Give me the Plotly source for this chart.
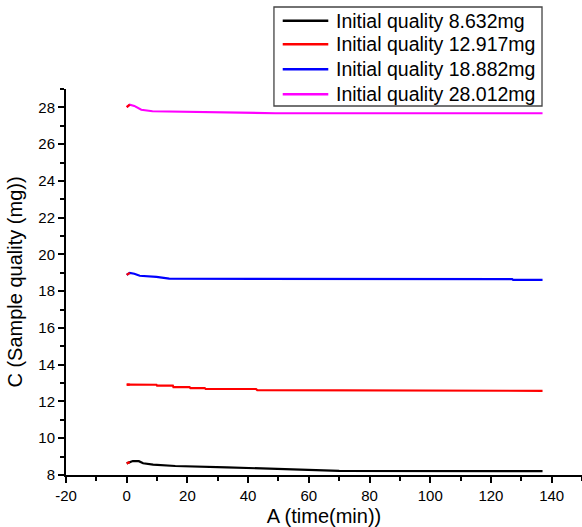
import plotly.graph_objects as go

# ---- data ----
names = ["Initial quality 8.632mg", "Initial quality 12.917mg",
         "Initial quality 18.882mg", "Initial quality 28.012mg"]
colors = ["#000000", "#ff0000", "#0000ff", "#ff00ff"]

t_black = [0, 1, 2, 4, 5.4, 8.7, 16, 33, 42, 49, 60, 70, 137]
m_black = [8.632, 8.70, 8.76, 8.75, 8.64, 8.56, 8.49, 8.42, 8.37, 8.31, 8.26, 8.22, 8.21]

t_red = [0, 1, 2.6, 9.8, 10, 15.2, 15.4, 20.7, 21, 25.7, 26, 42.6, 43, 85, 85.3, 137]
m_red = [12.917, 12.92, 12.93, 12.91, 12.86, 12.86, 12.78, 12.78, 12.73, 12.73,
         12.68, 12.68, 12.62, 12.62, 12.58, 12.58]

t_blue = [0, 1, 2.5, 4.3, 9.8, 14, 127, 127.3, 137]
m_blue = [18.882, 19.0, 18.95, 18.84, 18.78, 18.68, 18.66, 18.62, 18.62]

t_mag = [0, 1, 2.5, 4.8, 8.5, 19.6, 34, 49, 137]
m_mag = [28.012, 28.15, 28.08, 27.87, 27.79, 27.75, 27.71, 27.68, 27.68]

x_tickvals = [-20, 0, 20, 40, 60, 80, 100, 120, 140]
x_ticktext = ["-20", "0", "20", "40", "60", "80", "100", "120", "140"]
y_tickvals = [8, 10, 12, 14, 16, 18, 20, 22, 24, 26, 28]

series_t = [t_black, t_red, t_blue, t_mag]
series_m = [m_black, m_red, m_blue, m_mag]

FONT = "Liberation Sans, Arial, sans-serif"

fig = go.Figure()
for name, col, t, m in zip(names, colors, series_t, series_m):
    fig.add_trace(go.Scatter(x=t, y=m, mode="lines", name=name, showlegend=False,
                             line=dict(color=col, width=2.2)))
# short red start segment on each curve
for t, m in zip(series_t, series_m):
    fig.add_trace(go.Scatter(x=t[:2], y=m[:2], mode="lines", showlegend=False,
                             line=dict(color="#ff0000", width=2.2)))

axis_common = dict(showline=True, linecolor="black", linewidth=2, ticks="outside",
                   ticklen=6, tickwidth=1.5, tickcolor="black", showgrid=False,
                   zeroline=False, mirror=False,
                   tickfont=dict(family=FONT, size=15, color="black"))

fig.update_xaxes(range=[-20, 150], tickvals=x_tickvals, ticktext=x_ticktext,
                 minor=dict(dtick=10, ticklen=4, tickwidth=1.5, tickcolor="black", ticks="outside"),
                 title=dict(text="A (time(min))", font=dict(family=FONT, size=20, color="black"),
                            standoff=6),
                 **axis_common)
fig.update_yaxes(range=[8, 29], tickvals=y_tickvals,
                 minor=dict(dtick=1, ticklen=4, tickwidth=1.5, tickcolor="black", ticks="outside"),
                 title=dict(text="C (Sample quality (mg))", font=dict(family=FONT, size=20, color="black"),
                            standoff=10),
                 **axis_common)

# legend box drawn in paper coordinates
shapes = [dict(type="rect", xref="paper", yref="paper", x0=0.403, x1=0.9225,
               y0=0.956, y1=1.2124, line=dict(color="#444444", width=1.3),
               fillcolor="white", layer="above")]
annotations = []
row_y = [1.1769, 1.1158, 1.0510, 0.9863]
for name, col, ry in zip(names, colors, row_y):
    shapes.append(dict(type="line", xref="paper", yref="paper", x0=0.420, x1=0.5083,
                       y0=ry, y1=ry, line=dict(color=col, width=2.5), layer="above"))
    annotations.append(dict(text=name, xref="paper", yref="paper", x=0.5194, y=ry,
                            xanchor="left", yanchor="middle", showarrow=False,
                            font=dict(family=FONT, size=19.5, color="black")))

fig.update_layout(
    width=582, height=527,
    margin=dict(l=66, r=0, t=89, b=52),
    paper_bgcolor="white", plot_bgcolor="white",
    showlegend=False,
    shapes=shapes, annotations=annotations,
)

fig.write_html("out.html", config={"displayModeBar": False},
               post_script="document.body.style.margin='0';")
